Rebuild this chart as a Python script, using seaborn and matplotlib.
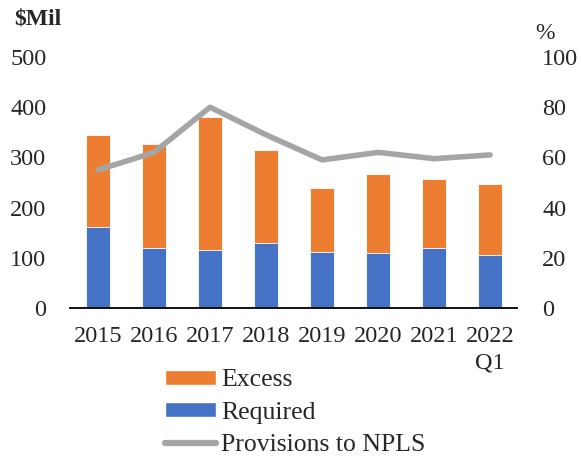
import numpy as np
import pandas as pd
import matplotlib
matplotlib.use("Agg")
import matplotlib.pyplot as plt
from matplotlib.patches import Patch
from matplotlib.lines import Line2D
import seaborn as sns

# datos
years = ["2015", "2016", "2017", "2018", "2019", "2020", "2021", "2022\nQ1"]
required = [161, 119, 116, 130, 112, 110, 120, 106]
excess = [184, 208, 264, 185, 127, 157, 137, 141]
provisions_to_npls = [55, 62, 80, 69, 59, 62, 59.5, 61]

azul = "#4472C4"
naranja = "#ED7D31"
gris = "#A5A5A5"

sns.set_theme(style="white")
plt.rcParams["font.family"] = ["Liberation Serif", "DejaVu Serif"]

df = pd.DataFrame({"year": years, "required": required, "excess": excess,
                   "npls": provisions_to_npls})
df["total"] = df["required"] + df["excess"]

fig = plt.figure(figsize=(5.81, 4.58), dpi=100)
ax = fig.add_axes([0.1205, 0.3275, 0.7694, 0.548])

sns.barplot(data=df, x="year", y="total", color=naranja, width=0.42,
            saturation=1, edgecolor="white", linewidth=0.6, ax=ax)
sns.barplot(data=df, x="year", y="required", color=azul, width=0.42,
            saturation=1, edgecolor="white", linewidth=0.6, ax=ax)
ax.set_ylim(0, 500)
ax.set_yticks(range(0, 501, 100))
ax.set_xlim(-0.5, 7.48)
ax.set_xlabel("")
ax.set_ylabel("")

ax2 = ax.twinx()
sns.lineplot(x=np.arange(len(years)), y=df["npls"], color=gris, linewidth=4,
             ax=ax2, legend=False)
ax2.set_ylim(0, 100)
ax2.set_yticks(range(0, 101, 20))
ax2.set_ylabel("")

for a in (ax, ax2):
    for s in ["top", "left", "right"]:
        a.spines[s].set_visible(False)
    a.tick_params(axis="both", length=0, labelsize=17.5, pad=6)
ax.spines["bottom"].set_visible(True)
ax.spines["bottom"].set_color("black")
ax.spines["bottom"].set_linewidth(1.3)
ax2.spines["bottom"].set_visible(False)
ax.tick_params(axis="y", pad=17)
ax2.tick_params(axis="y", pad=18)
ax.tick_params(axis="x", pad=13)
for lab in ax.get_xticklabels():
    lab.set_linespacing(1.35)

fig.text(0.025, 0.958, "$Mil", fontsize=17, fontweight="bold", va="center")
fig.text(0.922, 0.927, "%", fontsize=17, va="center")

handles = [Patch(facecolor=naranja, label="Excess"),
           Patch(facecolor=azul, label="Required"),
           Line2D([0], [0], color=gris, linewidth=4.5, label="Provisions to NPLS")]
fig.legend(handles=handles, loc="lower left", bbox_to_anchor=(0.266, -0.018),
           frameon=False, fontsize=18.5, handlelength=2.0, handleheight=0.5,
           labelspacing=0.4, handletextpad=0.2, borderaxespad=0)

fig.savefig("out.png", dpi=100)
